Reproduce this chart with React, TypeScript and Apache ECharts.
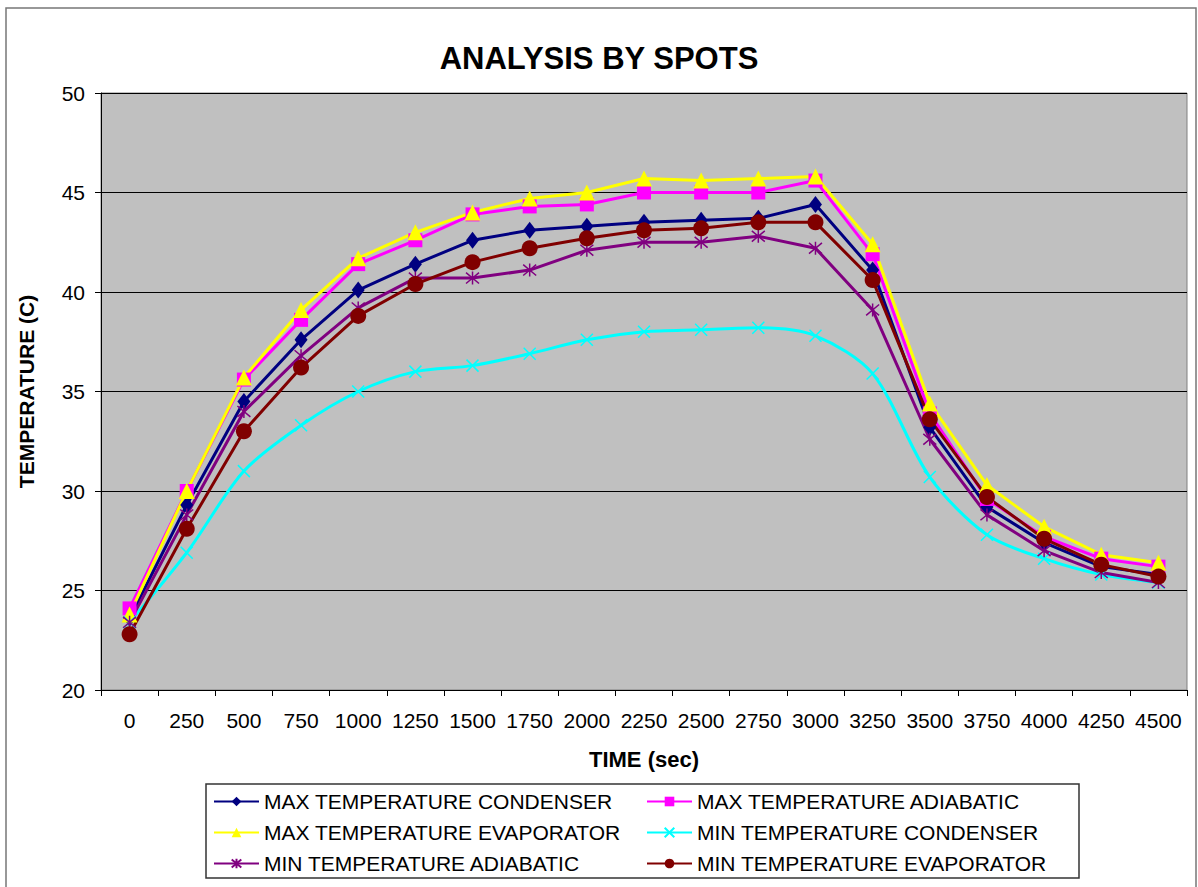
import React, { useEffect, useRef } from "react";
import * as echarts from "echarts";

const categories = ["0", "250", "500", "750", "1000", "1250", "1500", "1750", "2000", "2250", "2500", "2750", "3000", "3250", "3500", "3750", "4000", "4250", "4500"];
const maxCondenser = [23.6, 29.3, 34.5, 37.6, 40.1, 41.4, 42.6, 43.1, 43.3, 43.5, 43.6, 43.7, 44.4, 41.1, 33.2, 29.2, 27.4, 26.2, 25.8];
const maxAdiabatic = [24.1, 30.0, 35.6, 38.6, 41.4, 42.6, 43.9, 44.3, 44.4, 45.0, 45.0, 45.0, 45.6, 41.9, 33.9, 29.6, 27.7, 26.6, 26.2];
const maxEvaporator = [23.8, 30.0, 35.7, 39.1, 41.7, 43.0, 44.0, 44.7, 45.0, 45.7, 45.6, 45.7, 45.8, 42.4, 34.4, 30.3, 28.2, 26.8, 26.4];
const minCondenser = [23.4, 26.9, 31.0, 33.3, 35.0, 36.0, 36.3, 36.9, 37.6, 38.0, 38.1, 38.2, 37.8, 35.9, 30.7, 27.8, 26.6, 25.8, 25.4];
const minAdiabatic = [23.4, 28.8, 34.0, 36.8, 39.2, 40.7, 40.7, 41.1, 42.1, 42.5, 42.5, 42.8, 42.2, 39.1, 32.6, 28.8, 27.0, 25.9, 25.4];
const minEvaporator = [22.8, 28.1, 33.0, 36.2, 38.8, 40.4, 41.5, 42.2, 42.7, 43.1, 43.2, 43.5, 43.5, 40.6, 33.6, 29.7, 27.6, 26.3, 25.7];

const names = [
  "MAX TEMPERATURE CONDENSER",
  "MAX TEMPERATURE ADIABATIC",
  "MAX TEMPERATURE EVAPORATOR",
  "MIN TEMPERATURE CONDENSER",
  "MIN TEMPERATURE ADIABATIC",
  "MIN TEMPERATURE EVAPORATOR",
];

const FONT = "'Liberation Sans', Arial, sans-serif";
const X_SYMBOL = "path://M0 0L10 10M10 0L0 10";
const STAR_SYMBOL = "path://M0 0L10 10M10 0L0 10M5 -1L5 11";

export default function App() {
  const ref = useRef<HTMLDivElement>(null);
  useEffect(() => {
    document.body.style.margin = "0";
    if (!ref.current) return;
    const chart = echarts.init(ref.current, null, { renderer: "svg" });
    const lineSeries = (name: string, data: number[], color: string, symbol: string, size: any, extra: any = {}) => ({
      name,
      type: "line",
      data,
      symbol,
      symbolSize: size,
      lineStyle: { color, width: 3 },
      itemStyle: { color, borderColor: color, borderWidth: 0 },
      emphasis: { disabled: true },
      ...extra,
    });
    const legendCommon = {
      orient: "vertical",
      itemWidth: 45,
      itemHeight: 12,
      itemGap: 10,
      textStyle: { fontFamily: FONT, fontSize: 21, color: "#000", lineHeight: 20 },
      selectedMode: false,
    };
    chart.setOption({
      animation: false,
      backgroundColor: "#fff",
      title: {
        text: "ANALYSIS BY SPOTS",
        left: "center",
        top: 38,
        textStyle: { fontFamily: FONT, fontSize: 31, fontWeight: "bold", color: "#000" },
      },
      grid: {
        left: 101,
        top: 93,
        right: 11,
        bottom: 197,
        show: true,
        backgroundColor: "#C0C0C0",
        borderColor: "#808080",
        borderWidth: 1,
      },
      xAxis: {
        type: "category",
        data: categories,
        boundaryGap: true,
        name: "TIME (sec)",
        nameLocation: "middle",
        nameGap: 58,
        nameTextStyle: { fontFamily: FONT, fontSize: 22, fontWeight: "bold", color: "#000" },
        axisLine: { lineStyle: { color: "#000", width: 1 } },
        axisTick: { show: true, alignWithLabel: false, length: 6, lineStyle: { color: "#000" } },
        axisLabel: { fontFamily: FONT, fontSize: 21, color: "#000", margin: 20, interval: 0 },
        splitLine: { show: false },
      },
      yAxis: {
        type: "value",
        min: 20,
        max: 50,
        interval: 5,
        name: "TEMPERATURE (C)",
        nameLocation: "middle",
        nameGap: 64,
        nameRotate: 90,
        nameTextStyle: { fontFamily: FONT, fontSize: 21, fontWeight: "bold", color: "#000" },
        axisLine: { show: true, lineStyle: { color: "#000", width: 1 } },
        axisTick: { show: true, length: 6, lineStyle: { color: "#000" } },
        axisLabel: { fontFamily: FONT, fontSize: 21, color: "#000", margin: 16 },
        splitLine: { show: true, lineStyle: { color: "#000", width: 1 } },
      },
      legend: [
        { ...legendCommon, left: 208, top: 786, data: [names[0], names[2], names[4]] },
        { ...legendCommon, left: 641, top: 786, data: [names[1], names[3], names[5]] },
      ],
      graphic: [
        {
          type: "rect",
          shape: { x: 6, y: 8, width: 1190, height: 884 },
          style: { fill: "none", stroke: "#777", lineWidth: 1.5 },
          silent: true,
          z: -10,
        },
        {
          type: "rect",
          shape: { x: 206, y: 784, width: 873, height: 94 },
          style: { fill: "none", stroke: "#333", lineWidth: 1.5 },
          silent: true,
        },
      ],
      series: [
        lineSeries(names[0], maxCondenser, "#000080", "diamond", [13, 17]),
        lineSeries(names[1], maxAdiabatic, "#FF00FF", "rect", 14),
        lineSeries(names[2], maxEvaporator, "#FFFF00", "triangle", 16),
        lineSeries(names[3], minCondenser, "#00FFFF", X_SYMBOL, 12, {
          smooth: 0.3,
          itemStyle: { color: "none", borderColor: "#00FFFF", borderWidth: 1.5 },
        }),
        lineSeries(names[4], minAdiabatic, "#800080", STAR_SYMBOL, 13, {
          itemStyle: { color: "none", borderColor: "#800080", borderWidth: 1.5 },
        }),
        lineSeries(names[5], minEvaporator, "#800000", "circle", 16),
      ],
    });
    return () => chart.dispose();
  }, []);
  return <div ref={ref} style={{ width: 1198, height: 887 }} />;
}
